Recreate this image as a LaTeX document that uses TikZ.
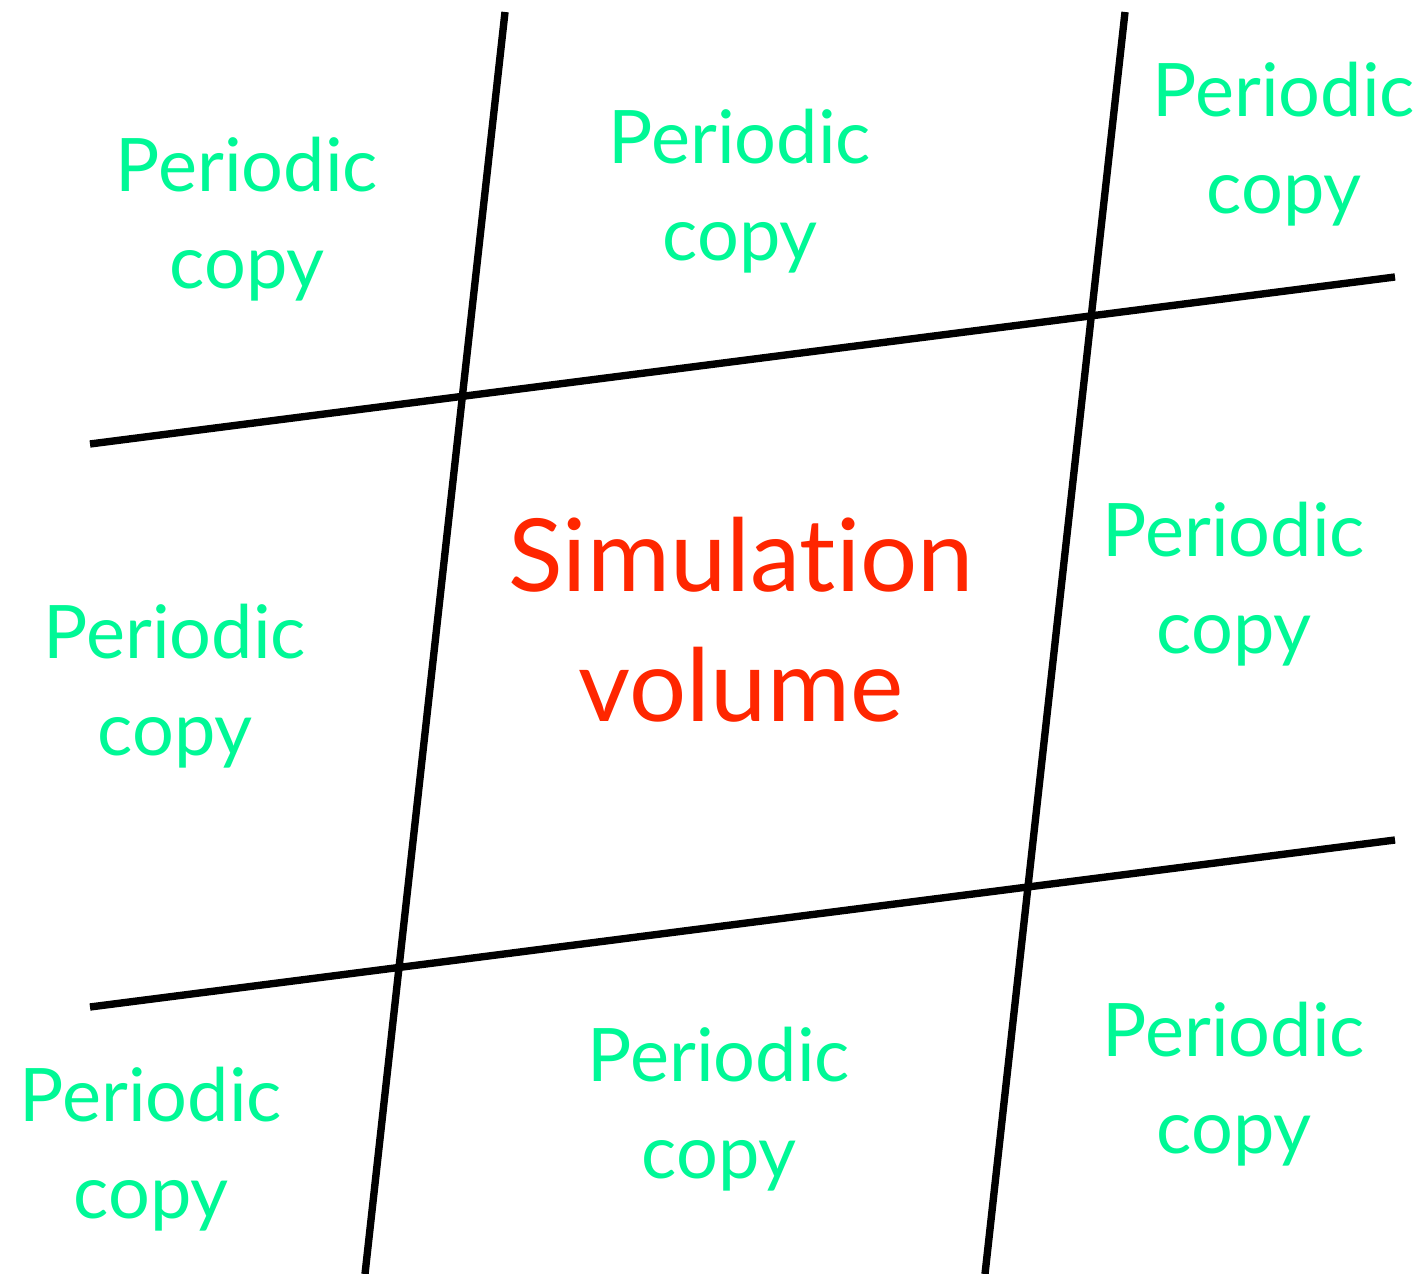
\documentclass[tikz,border=0pt]{standalone}
\usepackage{fontspec}
\setmainfont[Ligatures=NoCommon]{Lato}
\usepackage{xcolor}
\usepackage{tikz}
\usetikzlibrary{positioning, calc}

\definecolor{copygreen}{RGB}{0,248,150}
\definecolor{simred}{RGB}{255,38,0}

\begin{document}
\begin{tikzpicture}[
    x=0.01cm, y=-0.01cm,
    copy/.style={text=copygreen, font=\fontsize{21}{27.5}\selectfont, align=center, inner sep=0pt},
    sim/.style={text=simred, font=\fontsize{28.7}{37}\selectfont, align=center, inner sep=0pt},
    bd/.style={line width=2.1pt, black},
]
    \useasboundingbox (0,0) rectangle (1428,1274);
    % cell borders
    \coordinate (v1a) at (505,12);
    \coordinate (v1b) at (365,1274);
    \coordinate (v2a) at (1125,12);
    \coordinate (v2b) at (985,1274);
    \coordinate (h1a) at (90,444);
    \coordinate (h1b) at (1395,277);
    \coordinate (h2a) at (90,1007);
    \coordinate (h2b) at (1395,840);
    \draw[bd] (v1a) -- (v1b);
    \draw[bd] (v2a) -- (v2b);
    \draw[bd] (h1a) -- (h1b);
    \draw[bd] (h2a) -- (h2b);
    % labels
    \node[sim] (sim) at (741,620) {Simulation\\volume};
    \node[copy] (tl) at (247,219) {Periodic\\copy};
    \node[copy] (tm) at (740,191) {Periodic\\copy};
    \node[copy] (tr) at (1284,144) {Periodic\\copy};
    \node[copy] (ml) at (175,686) {Periodic\\copy};
    \node[copy] (mr) at (1234,584) {Periodic\\copy};
    \node[copy] (bl) at (151,1149) {Periodic\\copy};
    \node[copy] (bm) at (719,1109) {Periodic\\copy};
    \node[copy] (br) at (1234,1084) {Periodic\\copy};
\end{tikzpicture}
\end{document}
